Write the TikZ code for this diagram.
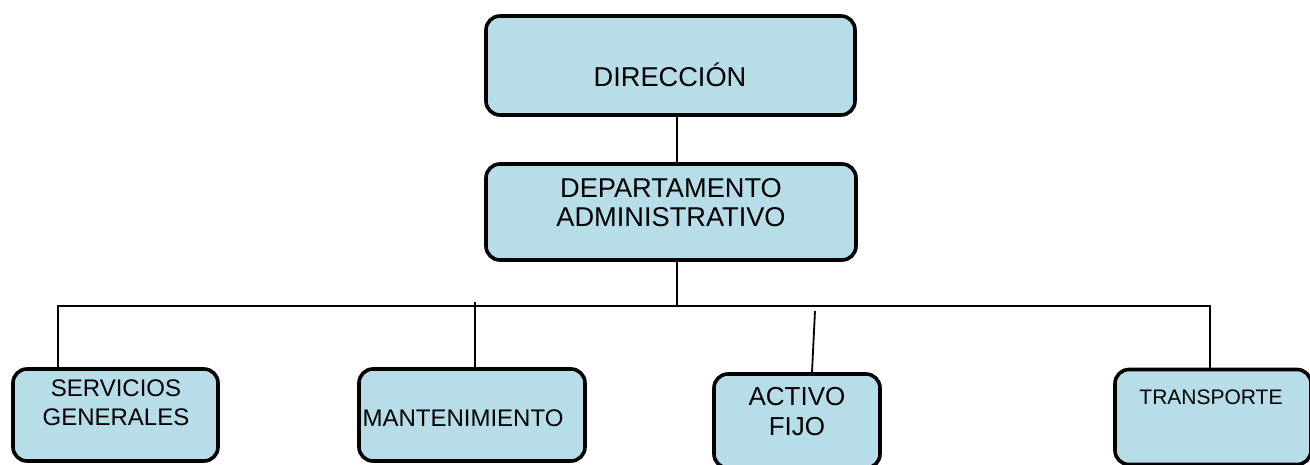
\documentclass[tikz,border=0pt]{standalone}
\usepackage{fontspec}
\setmainfont{Liberation Sans}
\definecolor{boxblue}{RGB}{183,221,232}
\begin{document}
\begin{tikzpicture}[x=1pt,y=-1pt,
  box/.style={draw=black, fill=boxblue, line width=3.6pt, rounded corners=14pt, rectangle, inner sep=0pt},
  lbl/.style={inner sep=0pt, align=center, text=black},
  big/.style={font=\fontsize{27.2}{29}\selectfont},
  act/.style={font=\fontsize{26}{30}\selectfont},
  mid/.style={font=\fontsize{24}{29}\selectfont},
  small/.style={font=\fontsize{21}{25}\selectfont},
  conn/.style={draw=black, line width=1.8pt}]
\useasboundingbox (0,0) rectangle (1310,465);
% boxes
\node[box, minimum width=369pt, minimum height=99pt] (dir) at (670.5,65.5) {};
\node[box, minimum width=370pt, minimum height=96pt] (dep) at (671,212) {};
\node[box, minimum width=205pt, minimum height=92pt] (sg) at (115.5,415) {};
\node[box, minimum width=226pt, minimum height=92pt] (man) at (472,415) {};
\node[box, minimum width=166pt, minimum height=94pt] (act) at (797,421) {};
\node[box, minimum width=196pt, minimum height=95pt] (tr) at (1213,417) {};
% labels
\node[lbl, big] (tdir) at (670,75) {DIRECCIÓN};
\node[lbl, big] (tdep) at (671,203) {DEPARTAMENTO\\ADMINISTRATIVO};
\node[lbl, mid] (tsg) at (116,403) {SERVICIOS\\GENERALES};
\node[lbl, mid] (tman) at (463,418) {MANTENIMIENTO};
\node[lbl, act] (tact) at (797,412) {ACTIVO\\FIJO};
\node[lbl, small] (ttr) at (1211,397) {TRANSPORTE};
% connector coordinates
\coordinate (j) at (677,306);
\coordinate (hl) at (58,306);
\coordinate (hr) at (1210,306);
\coordinate (mtop) at (475,302);
\coordinate (atop) at (815,311);
\coordinate (abot) at (812,372);
% connectors
\draw[conn] (dir.south -| j) -- (dep.north -| j);
\draw[conn] (dep.south -| j) -- (j);
\draw[conn] (sg.north -| hl) -- (hl) -- (hr) -- (tr.north -| hr);
\draw[conn] (man.north -| mtop) -- (mtop);
\draw[conn] (abot) -- (atop);
\end{tikzpicture}
\end{document}
